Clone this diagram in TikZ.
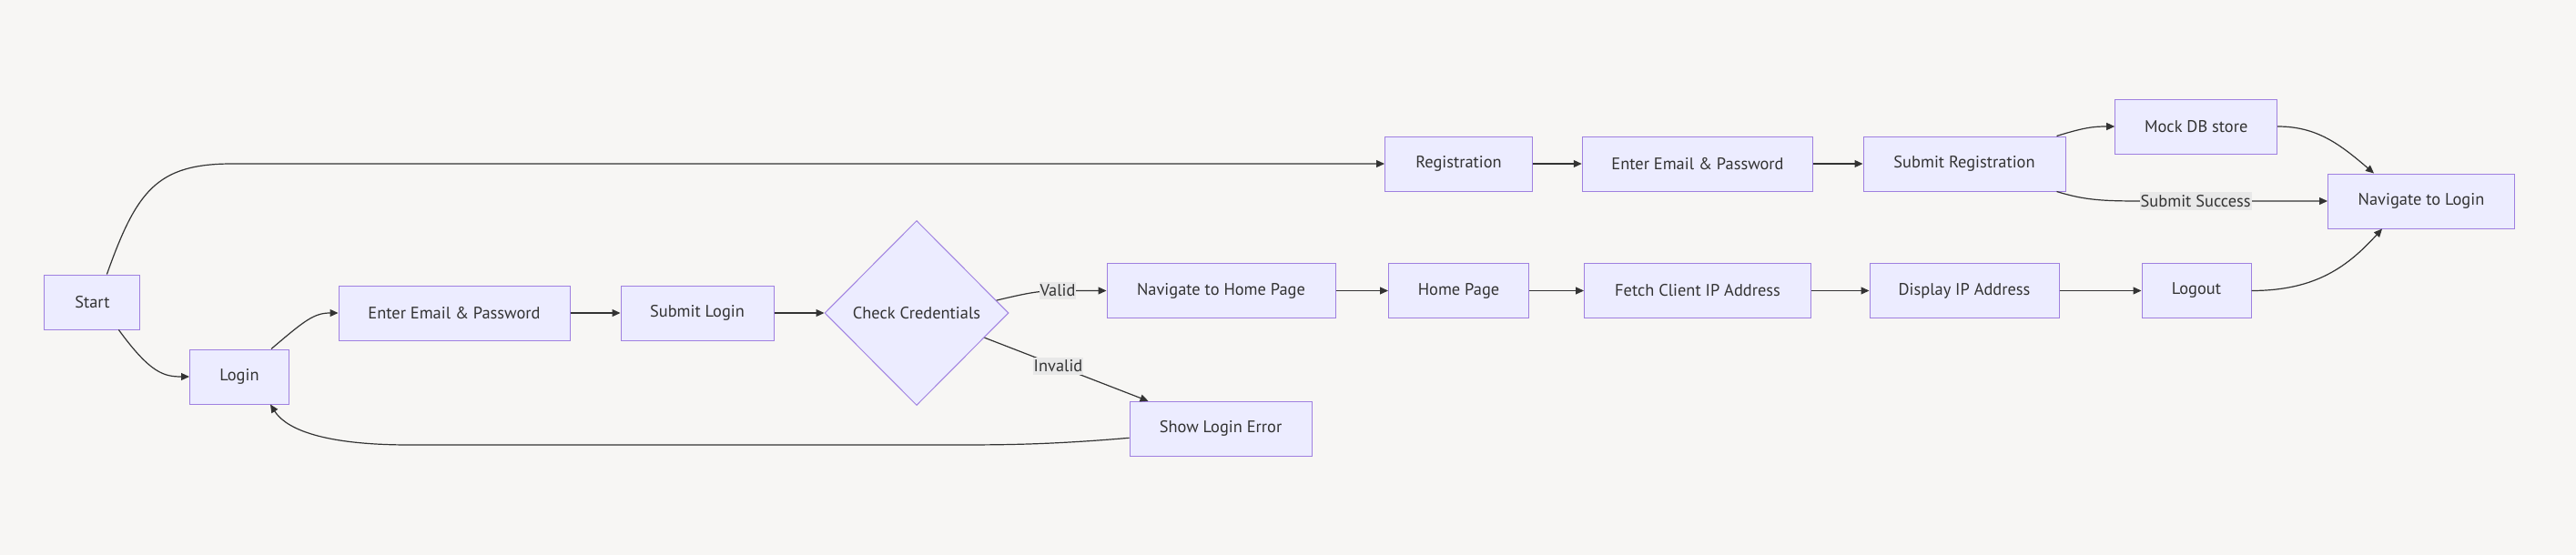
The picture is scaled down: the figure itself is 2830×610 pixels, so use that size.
\documentclass[tikz,border=0pt]{standalone}
\usepackage{fontspec}
\setmainfont{PT Sans}
\usetikzlibrary{arrows.meta,shapes.geometric,calc}
\definecolor{bgc}{HTML}{F7F6F4}
\definecolor{nodefill}{HTML}{ECECFF}
\definecolor{nodeborder}{HTML}{9F80E0}
\definecolor{txt}{HTML}{333333}
\definecolor{lblbg}{HTML}{E8E8E8}
\begin{document}
\begin{tikzpicture}[x=1pt,y=-1pt,
  lab/.style={font=\fontsize{18.4}{22}\selectfont, text=txt},
  box/.style={lab, draw=nodeborder, fill=nodefill, line width=1pt, minimum height=60pt, inner sep=0pt},
  dec/.style={lab, diamond, aspect=1, draw=nodeborder, fill=nodefill, line width=1pt, minimum width=202pt, minimum height=203pt, inner sep=0pt},
  conn/.style={draw=txt, line width=1.2pt, -{Triangle[length=9pt,width=8pt]}},
  lbl/.style={lab, fill=lblbg, inner xsep=1pt, inner ysep=3pt}
]
\fill[bgc] (0,0) rectangle (2830,610);
\useasboundingbox (0,0) rectangle (2830,610);

% nodes
\node[box, minimum width=105pt] (st) at (101.4,332) {Start};
\node[box, minimum width=109pt] (lg) at (263,414) {Login};
\node[box, minimum width=254pt] (le) at (499,344) {Enter Email \& Password};
\node[box, minimum width=168pt] (sl) at (766,344) {Submit Login};
\node[dec] (cc) at (1007,344) {Check Credentials};
\node[box, minimum width=251pt] (nh) at (1341.5,319.5) {Navigate to Home Page};
\node[box, minimum width=200pt] (er) at (1341,471.3) {Show Login Error};
\node[box, minimum width=154pt] (hp) at (1602.5,319.5) {Home Page};
\node[box, minimum width=249pt] (fc) at (1865,319.5) {Fetch Client IP Address};
\node[box, minimum width=208pt] (di) at (2158,319.5) {Display IP Address};
\node[box, minimum width=120pt] (lo) at (2413,319.5) {Logout};
\node[box, minimum width=162pt] (rg) at (1602.5,180) {Registration};
\node[box, minimum width=253.5pt] (re) at (1865,180) {Enter Email \& Password};
\node[box, minimum width=222pt] (sr) at (2158,180) {Submit Registration};
\node[box, minimum width=178pt] (md) at (2412.7,139) {Mock DB store};
\node[box, minimum width=205pt] (nl) at (2660,221) {Navigate to Login};

% connectors
\draw[conn] ($(st.north)+(16,0)$) .. controls (150,210) and (172,180) .. (255,180) -- (rg.west);
\draw[conn] ($(st.south)+(29,0)$) .. controls (165,410) and (180,414) .. (lg.west);
\draw[conn] ($(lg.north)+(35,0)$) .. controls (335,352) and (345,344) .. (le.west);
\draw[conn] (le.east) -- (sl.west);
\draw[conn] (sl.east) -- (cc.west);
\draw[conn] (cc.9) .. controls (1125,323) and (1140,319.5) .. (1162,319.5) node[lbl] {Valid} -- (nh.west);
\draw[conn] (cc.-20.5) -- node[lbl, pos=0.45] {Invalid} ($(er.north west)+(21,0)$);
\draw[conn] ($(er.west)+(0,10)$) .. controls (1150,489) and (1100,489) .. (1040,489) -- (450,489) .. controls (345,489) and (312,468) .. ($(lg.south)+(34,0)$);
\draw[conn] (nh.east) -- (hp.west);
\draw[conn] (hp.east) -- (fc.west);
\draw[conn] (fc.east) -- (di.west);
\draw[conn] (di.east) -- (lo.west);
\draw[conn] (lo.east) .. controls (2545,319.5) and (2580,292) .. ($(nl.south)+(-43,0)$);
\draw[conn] (rg.east) -- (re.west);
\draw[conn] (re.east) -- (sr.west);
\draw[conn] ($(sr.north east)+(-10,0)$) .. controls (2290,140) and (2300,139) .. (md.west);
\draw[conn] (md.east) .. controls (2545,139) and (2570,158) .. ($(nl.north)+(-52,0)$);
\draw[conn] ($(sr.south east)+(-10,0)$) .. controls (2290,220) and (2310,221) .. (2353,221) -- node[lbl, pos=0.29] {Submit Success} (nl.west);
\end{tikzpicture}
\end{document}
